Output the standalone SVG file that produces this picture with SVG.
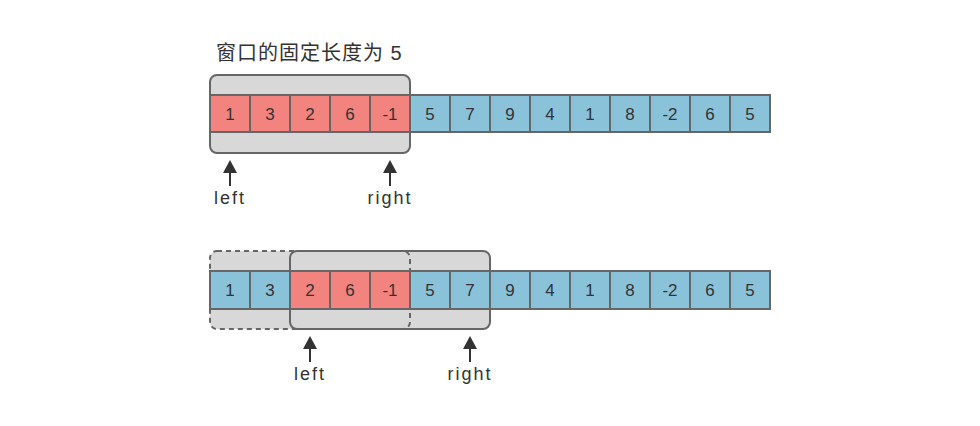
<svg xmlns="http://www.w3.org/2000/svg" width="980" height="426" viewBox="0 0 980 426">
<style>
.win{fill:#d8d8d8;stroke:#666;stroke-width:2}
.winfill{fill:#d8d8d8;stroke:none}
.dash{fill:none;stroke:#666;stroke-width:2;stroke-dasharray:5 4}
.r{fill:#f2837f;stroke:#666;stroke-width:2}
.b{fill:#89c2d9;stroke:#666;stroke-width:2}
.n{font-family:"Liberation Sans","Noto Sans CJK SC",sans-serif;font-size:17px;fill:#333;text-anchor:middle}
.lbl{font-family:"Liberation Sans",sans-serif;font-size:18px;fill:#333;text-anchor:middle;letter-spacing:2px}
.title{font-family:"Liberation Sans","Noto Sans CJK SC",sans-serif;font-size:20px;fill:#333;letter-spacing:1px}
.arr{stroke:#333;stroke-width:2}
</style>
<defs>
<g id="arrow"><polygon points="0,0 -7,13 7,13" fill="#333"/><line class="arr" x1="0" y1="13" x2="0" y2="26"/></g>
</defs>
<text class="title" x="216" y="60">窗口的固定长度为 5</text>
<g id="row1">
<rect id="window1" class="win" x="210" y="75" width="200" height="78" rx="7"/>
<g id="cells1">
<rect class="r" x="210" y="95" width="40" height="37"/><text class="n" x="230" y="119.5">1</text>
<rect class="r" x="250" y="95" width="40" height="37"/><text class="n" x="270" y="119.5">3</text>
<rect class="r" x="290" y="95" width="40" height="37"/><text class="n" x="310" y="119.5">2</text>
<rect class="r" x="330" y="95" width="40" height="37"/><text class="n" x="350" y="119.5">6</text>
<rect class="r" x="370" y="95" width="40" height="37"/><text class="n" x="390" y="119.5">-1</text>
<rect class="b" x="410" y="95" width="40" height="37"/><text class="n" x="430" y="119.5">5</text>
<rect class="b" x="450" y="95" width="40" height="37"/><text class="n" x="470" y="119.5">7</text>
<rect class="b" x="490" y="95" width="40" height="37"/><text class="n" x="510" y="119.5">9</text>
<rect class="b" x="530" y="95" width="40" height="37"/><text class="n" x="550" y="119.5">4</text>
<rect class="b" x="570" y="95" width="40" height="37"/><text class="n" x="590" y="119.5">1</text>
<rect class="b" x="610" y="95" width="40" height="37"/><text class="n" x="630" y="119.5">8</text>
<rect class="b" x="650" y="95" width="40" height="37"/><text class="n" x="670" y="119.5">-2</text>
<rect class="b" x="690" y="95" width="40" height="37"/><text class="n" x="710" y="119.5">6</text>
<rect class="b" x="730" y="95" width="40" height="37"/><text class="n" x="750" y="119.5">5</text>
</g>
</g>
<g id="row2">
<rect class="winfill" x="210" y="251" width="200" height="78" rx="7"/>
<rect id="window2" class="win" x="290" y="251" width="200" height="78" rx="7"/>
<rect id="window2-old" class="dash" x="210" y="251" width="200" height="78" rx="7"/>
<g id="cells2">
<rect class="b" x="210" y="271" width="40" height="38"/><text class="n" x="230" y="296">1</text>
<rect class="b" x="250" y="271" width="40" height="38"/><text class="n" x="270" y="296">3</text>
<rect class="r" x="290" y="271" width="40" height="38"/><text class="n" x="310" y="296">2</text>
<rect class="r" x="330" y="271" width="40" height="38"/><text class="n" x="350" y="296">6</text>
<rect class="r" x="370" y="271" width="40" height="38"/><text class="n" x="390" y="296">-1</text>
<rect class="b" x="410" y="271" width="40" height="38"/><text class="n" x="430" y="296">5</text>
<rect class="b" x="450" y="271" width="40" height="38"/><text class="n" x="470" y="296">7</text>
<rect class="b" x="490" y="271" width="40" height="38"/><text class="n" x="510" y="296">9</text>
<rect class="b" x="530" y="271" width="40" height="38"/><text class="n" x="550" y="296">4</text>
<rect class="b" x="570" y="271" width="40" height="38"/><text class="n" x="590" y="296">1</text>
<rect class="b" x="610" y="271" width="40" height="38"/><text class="n" x="630" y="296">8</text>
<rect class="b" x="650" y="271" width="40" height="38"/><text class="n" x="670" y="296">-2</text>
<rect class="b" x="690" y="271" width="40" height="38"/><text class="n" x="710" y="296">6</text>
<rect class="b" x="730" y="271" width="40" height="38"/><text class="n" x="750" y="296">5</text>
</g>
</g>
<g id="connectors">
<use href="#arrow" x="230" y="160"/>
<use href="#arrow" x="390" y="160"/>
<use href="#arrow" x="310" y="336"/>
<use href="#arrow" x="470" y="336"/>
</g>
<g id="pointer-labels">
<text class="lbl" x="230" y="204">left</text>
<text class="lbl" x="390" y="204">right</text>
<text class="lbl" x="310" y="380">left</text>
<text class="lbl" x="470" y="380">right</text>
</g>
</svg>
